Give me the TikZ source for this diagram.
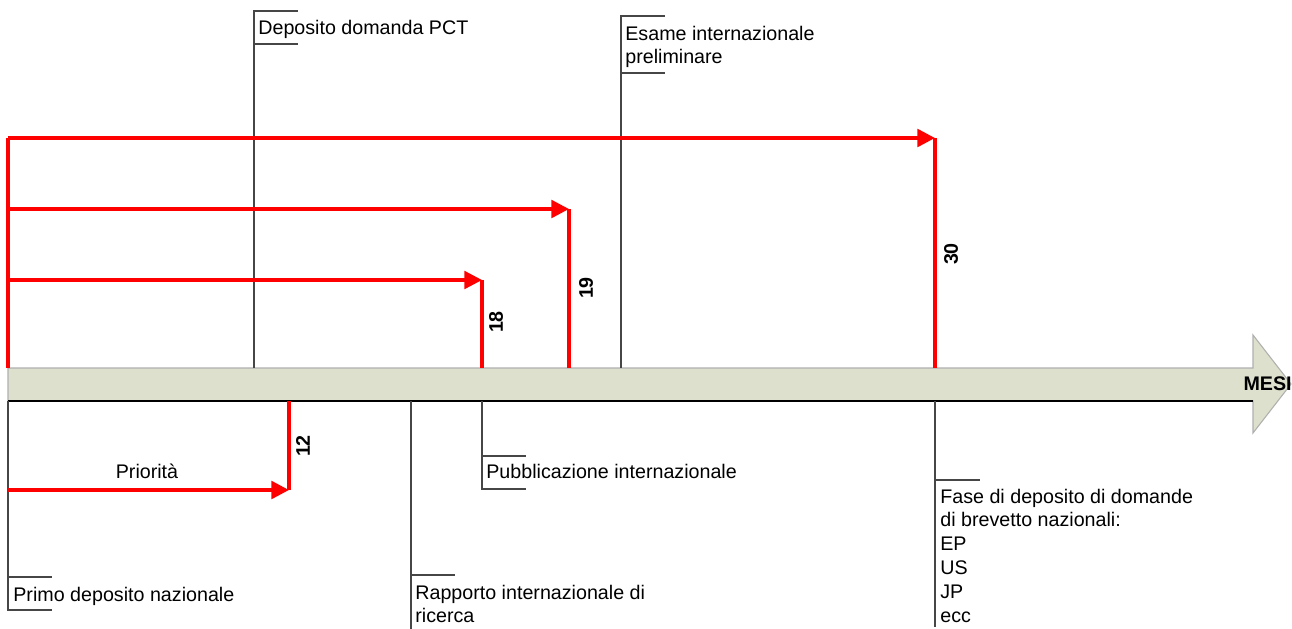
\documentclass[tikz,border=0pt]{standalone}
\usepackage{fontspec}
\setmainfont{Liberation Sans}
\usetikzlibrary{arrows.meta, positioning}
\definecolor{pctred}{RGB}{255, 0, 0}
\definecolor{pctband}{RGB}{221, 224, 204}
\definecolor{pctgray}{RGB}{175, 175, 175}
\definecolor{pctline}{RGB}{70, 70, 70}
\newcommand{\evfont}{\fontsize{11.2}{13.6}\selectfont}

\begin{document}
\begin{tikzpicture}[
    x=0.02cm, y=-0.02cm,
    band/.style={
        fill=pctband,
        draw=pctgray,
        line width=0.6pt
    },
    tickline/.style={
        draw=pctline,
        line width=0.6pt
    },
    redline/.style={
        draw=pctred,
        line width=1.9pt
    },
    redarrow/.style={
        -{Triangle[length=10pt, width=10pt]},
        draw=pctred,
        line width=1.9pt
    },
    evtext/.style={
        anchor=north west,
        inner sep=0pt,
        align=left,
        font=\evfont
    },
    months/.style={
        font=\evfont\bfseries,
        rotate=90,
        inner sep=0pt
    }
]

\useasboundingbox (0,0) rectangle (1292,629);

% Time axis
\draw[band] (8,368) -- (1253,368) -- (1253,335) -- (1291,384) -- (1253,433) -- (1253,401) -- (8,401) -- cycle;
\draw[black, line width=0.7pt] (8,401) -- (1253,401);
\node[font=\evfont\bfseries, anchor=east, inner sep=0pt] (mesi) at (1292,384) {MESI};

% Points on the axis
\coordinate (m0up) at (8,368);
\coordinate (m0dn) at (8,401);
\coordinate (pct) at (254,368);
\coordinate (ipe) at (621,368);
\coordinate (m12) at (289,401);
\coordinate (isr) at (411,401);
\coordinate (m18up) at (482,368);
\coordinate (m18dn) at (482,401);
\coordinate (m19) at (569,368);
\coordinate (m30up) at (935,368);
\coordinate (m30dn) at (935,401);

% Events above the axis
\coordinate (pcttop) at (254,11);
\coordinate (pctbot) at (254,44);
\draw[tickline] (pct) -- (pcttop) -- ++(44,0);
\draw[tickline] (pctbot) -- ++(44,0);
\node[evtext] (pcttxt) at (258,17) {\strut Deposito domanda PCT};

\coordinate (ipetop) at (621,16);
\coordinate (ipebot) at (621,73);
\draw[tickline] (ipe) -- (ipetop) -- ++(44,0);
\draw[tickline] (ipebot) -- ++(44,0);
\node[evtext] (ipetxt) at (625,23) {\strut Esame internazionale\\preliminare};

% Events below the axis
\coordinate (firsttop) at (8,577);
\coordinate (firstbot) at (8,610);
\draw[tickline] (m0dn) -- (firstbot) -- ++(44,0);
\draw[tickline] (firsttop) -- ++(44,0);
\node[evtext] (firsttxt) at (13,584) {\strut Primo deposito nazionale};

\coordinate (isrtop) at (411,575);
\coordinate (isrend) at (411,629);
\draw[tickline] (isr) -- (isrend);
\draw[tickline] (isrtop) -- ++(44,0);
\node[evtext] (isrtxt) at (415,582) {\strut Rapporto internazionale di\\ricerca};

\coordinate (pubtop) at (482,456);
\coordinate (pubbot) at (482,489);
\draw[tickline] (m18dn) -- (pubbot) -- ++(44,0);
\draw[tickline] (pubtop) -- ++(44,0);
\node[evtext] (pubtxt) at (486,461) {\strut Pubblicazione internazionale};

\coordinate (natop) at (935,480);
\coordinate (naend) at (935,627);
\draw[tickline] (m30dn) -- (naend);
\draw[tickline] (natop) -- ++(45,0);
\node[evtext] (natxt) at (940,486) {\strut Fase di deposito di domande\\di brevetto nazionali:\\EP\\US\\JP\\ecc};

% Month spans
\coordinate (s30) at (8,138);
\coordinate (s19) at (8,209);
\coordinate (s18) at (8,280);
\coordinate (s12) at (8,490);
\coordinate (e30) at (935,138);
\coordinate (e19) at (569,209);
\coordinate (e18) at (482,280);
\coordinate (e12) at (289,490);

\draw[redline] (m0up) -- (s30);
\draw[redline] (m30up) -- (e30);
\draw[redline] (m19) -- (e19);
\draw[redline] (m18up) -- (e18);
\draw[redline] (m12) -- (e12);

\draw[redarrow] (s30) -- (e30);
\draw[redarrow] (s19) -- (e19);
\draw[redarrow] (s18) -- (e18);
\draw[redarrow] (s12) -- (e12);

\node[months] (n30) at (951,254) {30};
\node[months] (n19) at (586,288) {19};
\node[months] (n18) at (496,322) {18};
\node[months] (n12) at (303,446) {12};
\node[font=\evfont, inner sep=0pt] (prio) at (147,471) {Priorità};

\end{tikzpicture}
\end{document}
